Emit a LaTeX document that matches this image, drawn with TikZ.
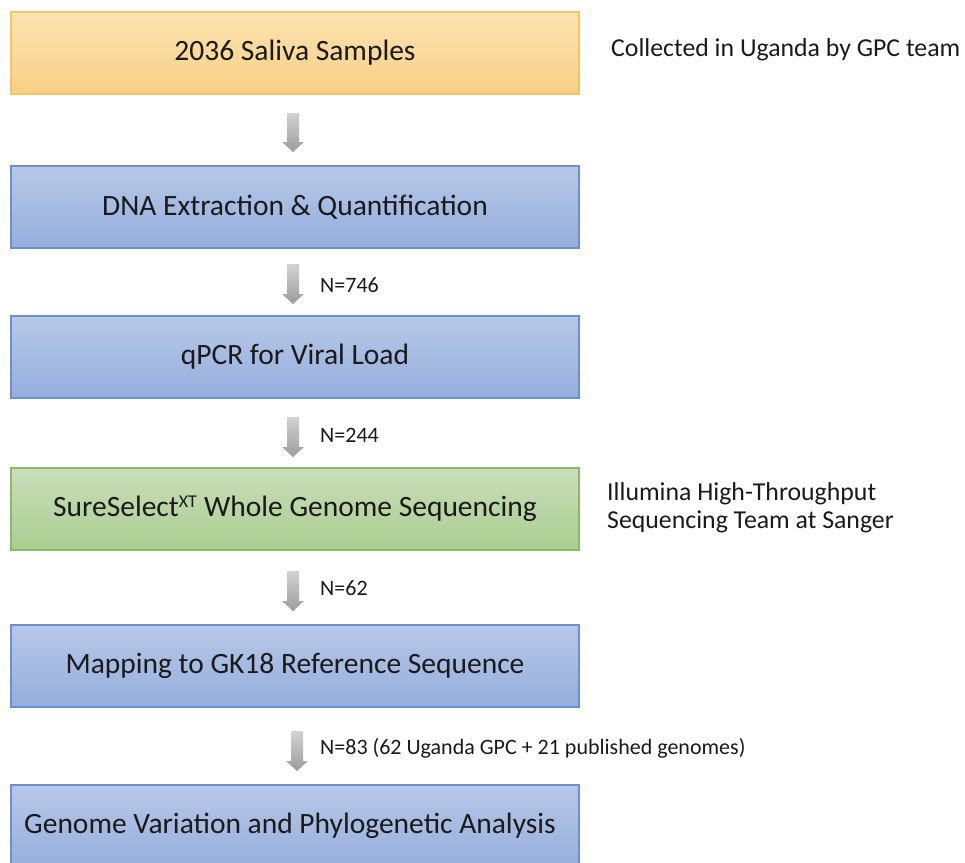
\documentclass[tikz,border=0pt]{standalone}
\usepackage{fontspec}
\setmainfont{Carlito}
\usetikzlibrary{calc}
\definecolor{txt}{HTML}{1A1A1A}
\definecolor{orTop}{HTML}{FCE3B2}
\definecolor{orBot}{HTML}{F8D085}
\definecolor{orLine}{HTML}{F3C663}
\definecolor{blTop}{HTML}{B7C8E8}
\definecolor{blBot}{HTML}{95AEDC}
\definecolor{blLine}{HTML}{6E8FCB}
\definecolor{grTop}{HTML}{C9DEB9}
\definecolor{grBot}{HTML}{AACD90}
\definecolor{grLine}{HTML}{8CB86C}
\definecolor{arTop}{HTML}{D2D2D2}
\definecolor{arBot}{HTML}{9C9C9C}
\tikzset{
  stepbox/.style={minimum width=568pt, minimum height=82pt, inner sep=0pt,
    line width=1.2pt, font=\fontsize{29.5}{34}\selectfont, text=txt},
  orangebox/.style={stepbox, draw=orLine, top color=orTop, bottom color=orBot},
  bluebox/.style={stepbox, draw=blLine, top color=blTop, bottom color=blBot},
  greenbox/.style={stepbox, draw=grLine, top color=grTop, bottom color=grBot},
  sidetext/.style={font=\fontsize{25.8}{28}\selectfont, text=txt, anchor=west, align=left, inner sep=0pt},
  countlabel/.style={font=\fontsize{22}{26}\selectfont, text=txt, anchor=west, inner sep=0pt},
  grayarrow/.style={top color=arTop, bottom color=arBot, draw=none}
}
\newcommand{\flowarrow}[2]{%
  \path[grayarrow] ($(#1)+(-6,0)$) -- ($(#1)+(6,0)$) -- ($(#2)+(6,-10)$) -- ($(#2)+(11,-10)$)
    -- (#2) -- ($(#2)+(-11,-10)$) -- ($(#2)+(-6,-10)$) -- cycle;}
\begin{document}
\begin{tikzpicture}[x=1pt,y=-1pt]
\useasboundingbox (0,0) rectangle (965,862);
\begin{scope}
\clip (0,0) rectangle (965,862);
\node[orangebox] (b1) at (295,53) {2036 Saliva Samples};
\node[bluebox] (b2) at (295,207) {DNA Extraction \& Quantification};
\node[bluebox] (b3) at (295,357) {qPCR for Viral Load};
\node[greenbox] (b4) at (295,509) {SureSelect\textsuperscript{\fontsize{18}{20}\selectfont XT} Whole Genome Sequencing};
\node[bluebox] (b5) at (295,666) {Mapping to GK18 Reference Sequence};
\node[bluebox, minimum height=84pt] (b6) at (295,827) {};
\node[font=\fontsize{29.5}{34}\selectfont, text=txt, anchor=west, inner sep=0pt] (b6t) at (24,826) {Genome Variation and Phylogenetic Analysis};
\end{scope}

\node[sidetext] (s1) at (611,50) {Collected in Uganda by GPC team};
\node[sidetext] (s2) at (607,508) {Illumina High-Throughput\\Sequencing Team at Sanger};

\coordinate (a1s) at (293,113); \coordinate (a1e) at (293,152);
\coordinate (a2s) at (293,264); \coordinate (a2e) at (293,304);
\coordinate (a3s) at (293,417); \coordinate (a3e) at (293,457);
\coordinate (a4s) at (293,571); \coordinate (a4e) at (293,611);
\coordinate (a5s) at (297,731); \coordinate (a5e) at (297,771);
\flowarrow{a1s}{a1e}
\flowarrow{a2s}{a2e}
\flowarrow{a3s}{a3e}
\flowarrow{a4s}{a4e}
\flowarrow{a5s}{a5e}

\node[countlabel] (n1) at (320,285) {N=746};
\node[countlabel] (n2) at (320,435) {N=244};
\node[countlabel] (n3) at (320,588) {N=62};
\node[countlabel] (n4) at (320,748) {N=83 (62 Uganda GPC + 21 published genomes)};
\end{tikzpicture}
\end{document}
